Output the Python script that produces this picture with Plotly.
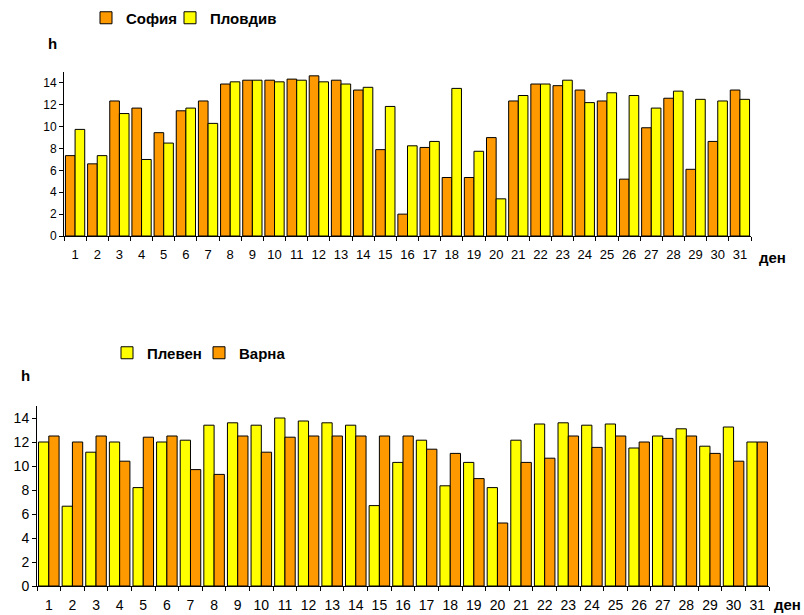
import plotly.graph_objects as go

days = [str(d) for d in range(1, 32)]

sofia = [7.35, 6.6, 12.35, 11.7, 9.45, 11.45, 12.35, 13.9, 14.25, 14.25,
         14.35, 14.65, 14.25, 13.35, 7.9, 2.0, 8.1, 5.35, 5.35, 9.0,
         12.35, 13.9, 13.75, 13.35, 12.35, 5.2, 9.9, 12.6, 6.1, 8.65, 13.35]
plovdiv = [9.75, 7.35, 11.2, 7.0, 8.5, 11.7, 10.3, 14.1, 14.25, 14.1,
           14.25, 14.1, 13.9, 13.6, 11.85, 8.25, 8.65, 13.5, 7.75, 3.4,
           12.85, 13.9, 14.25, 12.2, 13.1, 12.85, 11.7, 13.25, 12.5, 12.35, 12.5]

pleven = [12.0, 6.65, 11.15, 12.0, 8.2, 12.0, 12.15, 13.4, 13.6, 13.4,
          14.0, 13.75, 13.6, 13.4, 6.7, 10.3, 12.15, 8.35, 10.3, 8.2,
          12.15, 13.5, 13.6, 13.4, 13.5, 11.5, 12.5, 13.1, 11.65, 13.25, 12.0]
varna = [12.5, 12.0, 12.5, 10.4, 12.4, 12.5, 9.7, 9.3, 12.5, 11.15,
         12.4, 12.5, 12.5, 12.5, 12.5, 12.5, 11.4, 11.05, 8.95, 5.25,
         10.3, 10.65, 12.5, 11.55, 12.5, 12.0, 12.3, 12.5, 11.05, 10.4, 12.0]

y_ticks = list(range(0, 15, 2))

ORANGE = "#FF9900"
YELLOW = "#FFFF00"
FONT = "Liberation Sans"
bar_line = dict(color="#000000", width=1)

fig = go.Figure()

# each series gets its own legend box so the entries can sit close together
fig.add_trace(go.Bar(x=days, y=sofia, name="София", marker=dict(color=ORANGE, line=bar_line),
                     xaxis="x", yaxis="y", legend="legend"))
fig.add_trace(go.Bar(x=days, y=plovdiv, name="Пловдив", marker=dict(color=YELLOW, line=bar_line),
                     xaxis="x", yaxis="y", legend="legend2"))
fig.add_trace(go.Bar(x=days, y=pleven, name="Плевен", marker=dict(color=YELLOW, line=bar_line),
                     xaxis="x2", yaxis="y2", legend="legend3"))
fig.add_trace(go.Bar(x=days, y=varna, name="Варна", marker=dict(color=ORANGE, line=bar_line),
                     xaxis="x2", yaxis="y2", legend="legend4"))

W, H = 804, 615


def px_x(p):
    return p / W


def px_y(p):
    return 1 - p / H


def x_axis(domain, anchor, size):
    return dict(
        domain=domain, anchor=anchor, automargin=False,
        type="category", tickson="boundaries", ticks="outside", ticklen=4, tickwidth=1,
        tickcolor="#000000", showline=True, linecolor="#000000", linewidth=1,
        showgrid=False, zeroline=False, tickangle=0, ticklabelstandoff=6,
        tickfont=dict(family=FONT, size=size, color="#000000"),
    )


def y_axis(domain, anchor, size):
    return dict(
        domain=domain, anchor=anchor, automargin=False,
        range=[0, 15], tickvals=y_ticks, ticks="outside", ticklen=4, tickwidth=1,
        tickcolor="#000000", showline=True, linecolor="#000000", linewidth=1,
        showgrid=False, zeroline=False,
        tickfont=dict(family=FONT, size=size, color="#000000"),
    )


def legend_box(x, y):
    return dict(
        x=x, y=y, orientation="h", bgcolor="rgba(0,0,0,0)", itemwidth=30,
        font=dict(family=FONT, size=15, color="#000000", weight="bold"),
        xanchor="left", yanchor="middle", itemclick=False, itemdoubleclick=False,
    )


fig.update_layout(
    width=W, height=H,
    margin=dict(l=0, r=0, t=0, b=0),
    paper_bgcolor="#FFFFFF", plot_bgcolor="#FFFFFF",
    barmode="group", bargap=0.13, bargroupgap=0,
    xaxis=x_axis([px_x(64), px_x(751)], "y", 13),
    yaxis=y_axis([px_y(236), px_y(72)], "x", 12),
    xaxis2=x_axis([px_x(37), px_x(769)], "y2", 14),
    yaxis2=y_axis([px_y(586), px_y(406)], "x2", 14),
    legend=legend_box(px_x(86), px_y(18)),
    legend2=legend_box(px_x(170), px_y(18)),
    legend3=legend_box(px_x(107), px_y(353)),
    legend4=legend_box(px_x(199), px_y(353)),
    showlegend=True,
)

label_font = dict(family=FONT, size=15, color="#000000", weight="bold")
for text, x, y, xa, ya in [("h", 52, 43, "center", "middle"),
                           ("ден", 772, 257, "center", "middle"),
                           ("h", 25, 375, "center", "middle"),
                           ("ден", 803, 615, "right", "bottom")]:
    fig.add_annotation(text=text, x=px_x(x), y=px_y(y), xref="paper", yref="paper",
                       showarrow=False, xanchor=xa, yanchor=ya, font=label_font)

fig.write_html("out.html")
